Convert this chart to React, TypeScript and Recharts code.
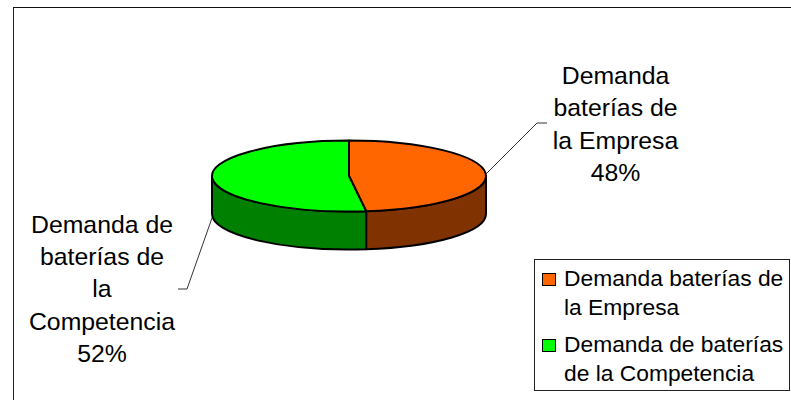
import { Legend, Pie, PieChart } from "recharts";

const categories = ["Demanda baterías de la Empresa", "Demanda de baterías de la Competencia"];
const shares = [48, 52];
const topColors = ["#FF6600", "#00FF00"];
const sideColors = ["#803300", "#008000"];

// wrapped the way the original labels break, last line is the percentage
const labelLines = [
  ["Demanda", "baterías de", "la Empresa"],
  ["Demanda de", "baterías de", "la", "Competencia"],
];

const pieData = categories.map((name, i) => ({
  name,
  value: shares[i],
  fill: topColors[i],
  side: sideColors[i],
}));

const FONT = "'Liberation Sans', Arial, sans-serif";
const SQUASH = 35.5 / 137; // flattened pie, ry / rx
const DEPTH = 38;

// Recharts gives the angles, we just draw the sector as a flat ellipse with a rim
function Slice3D(props: any) {
  const { cx, cy, outerRadius: rx, startAngle, endAngle, fill, payload } = props;
  const ry = rx * SQUASH;
  const pt = (deg: number, dy = 0) => {
    const r = (deg * Math.PI) / 180;
    return `${cx + rx * Math.cos(r)} ${cy - ry * Math.sin(r) + dy}`;
  };
  const large = Math.abs(startAngle - endAngle) > 180 ? 1 : 0;
  const top = `M${cx} ${cy} L${pt(startAngle)} A${rx} ${ry} 0 ${large} 1 ${pt(endAngle)} Z`;

  // only the front half of the rim shows (angles 0 to -180)
  const from = Math.min(startAngle, 0);
  const to = Math.max(endAngle, -180);
  const rim =
    from > to
      ? `M${pt(from)} A${rx} ${ry} 0 0 1 ${pt(to)} L${pt(to, DEPTH)} A${rx} ${ry} 0 0 0 ${pt(from, DEPTH)} Z`
      : null;

  return (
    <g>
      {rim && <path d={rim} fill={payload.side} stroke="#000" strokeWidth={2} strokeLinejoin="round" />}
      <path d={top} fill={fill} stroke="#000" strokeWidth={2} strokeLinejoin="round" />
    </g>
  );
}

const labelPlaces = [
  { x: 615.5, y: 84, step: 32.4, leader: "486,174 537,123 547,123" },
  { x: 102, y: 233, step: 32.2, leader: "212,218 187,289 178,289" },
];

function SliceLabel(props: any) {
  const { index, percent } = props;
  const place = labelPlaces[index];
  const lines = [...labelLines[index], `${Math.round(percent * 100)}%`];
  return (
    <g>
      <polyline points={place.leader} fill="none" stroke="#333" strokeWidth={1} />
      <text x={place.x} textAnchor="middle" fontFamily={FONT} fontSize={24.8} fill="#000">
        {lines.map((line, i) => (
          <tspan key={i} x={place.x} y={place.y + i * place.step}>
            {line}
          </tspan>
        ))}
      </text>
    </g>
  );
}

function LegendBox({ payload }: any) {
  return (
    <div
      style={{
        boxSizing: "border-box",
        width: 256,
        height: 132,
        background: "#fff",
        border: "1.5px solid #222",
        padding: "4px 0 0 7px",
        fontFamily: FONT,
        fontSize: 22.8,
        lineHeight: "29px",
        color: "#000",
      }}
    >
      {(payload || []).map((entry: any, i: number) => (
        <div key={i} style={{ position: "relative", paddingLeft: 22, marginBottom: 8, whiteSpace: "normal" }}>
          <span
            style={{
              position: "absolute",
              left: 0,
              top: 9,
              width: 12,
              height: 11,
              background: entry.color,
              border: "1.5px solid #000",
            }}
          />
          {entry.value}
        </div>
      ))}
    </div>
  );
}

export default function App() {
  return (
    <div style={{ position: "absolute", left: 0, top: 0, width: 791, height: 400, background: "#fff" }}>
      <div
        style={{
          position: "absolute",
          left: 13,
          top: 7,
          width: 778,
          height: 393,
          boxSizing: "border-box",
          borderLeft: "1.5px solid #222",
          borderTop: "1.5px solid #111",
        }}
      />
      <PieChart width={791} height={400} margin={{ top: 0, right: 0, bottom: 0, left: 0 }} style={{ position: "absolute" }}>
        <Pie
          data={pieData}
          dataKey="value"
          nameKey="name"
          cx={349}
          cy={176}
          innerRadius={0}
          outerRadius={137}
          startAngle={90}
          endAngle={-270}
          paddingAngle={0}
          shape={Slice3D}
          label={SliceLabel}
          labelLine={false}
          isAnimationActive={false}
        />
        <Legend
          content={LegendBox}
          layout="vertical"
          wrapperStyle={{ position: "absolute", left: 534, top: 259, width: 256, height: 132 }}
        />
      </PieChart>
    </div>
  );
}
